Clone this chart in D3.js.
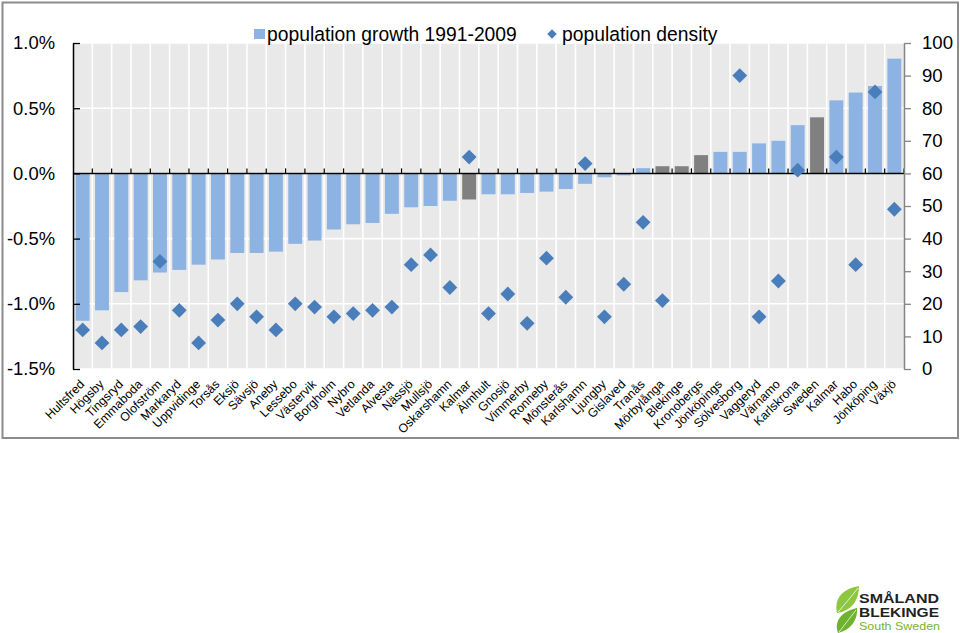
<!DOCTYPE html>
<html>
<head>
<meta charset="utf-8">
<script src="https://cdn.jsdelivr.net/npm/d3@7"></script>
<style>
  html, body { margin: 0; padding: 0; background: #fff; }
  svg { display: block; font-family: "Liberation Sans", Arial, sans-serif; }
</style>
</head>
<body>
<svg id="chart" width="960" height="633"></svg>
<script>
const categories = ["Hultsfred","Högsby","Tingsryd","Emmaboda","Olofström","Markaryd","Uppvidinge","Torsås","Eksjö","Sävsjö","Aneby","Lessebo","Västervik","Borgholm","Nybro","Vetlanda","Alvesta","Nässjö","Mullsjö","Oskarshamn","Kalmar","Älmhult","Gnosjö","Vimmerby","Ronneby","Mönsterås","Karlshamn","Ljungby","Gislaved","Tranås","Mörbylånga","Blekinge","Kronobergs","Jönköpings","Sölvesborg","Vaggeryd","Värnamo","Karlskrona","Sweden","Kalmar","Habo","Jönköping","Växjö"];
// population growth 1991-2009, % per year
const growth = [-1.13,-1.05,-0.91,-0.82,-0.76,-0.74,-0.70,-0.66,-0.61,-0.61,-0.60,-0.54,-0.515,-0.43,-0.39,-0.38,-0.31,-0.26,-0.25,-0.21,-0.20,-0.16,-0.16,-0.15,-0.14,-0.12,-0.08,-0.03,-0.015,0.04,0.055,0.055,0.14,0.165,0.165,0.23,0.25,0.37,0.43,0.56,0.62,0.67,0.88];
// population density (inhabitants per km2), null = not shown
const density = [12,8,12,13,33,18,8,15,20,16,12,20,19,16,17,18,19,32,35,25,65,17,23,14,34,22,63,16,26,45,21,null,null,null,90,16,27,61,null,65,32,85,49];
// categories drawn as aggregate (grey) bars
const aggregateIndex = [20,30,31,32,38];
const leftTicks = [-1.5,-1.0,-0.5,0.0,0.5,1.0];
const rightTicks = [0,10,20,30,40,50,60,70,80,90,100];
const legendLabels = ["population growth 1991-2009","population density"];

const svg = d3.select("#chart");
const plot = {left: 73, right: 904, top: 43, bottom: 369};

const colBar = "#8db3e2", colAgg = "#808080", colDiamond = "#4a7ebb", colBg = "#e9e9e9";

// outer frame
svg.append("rect").attr("x", 2.5).attr("y", 2.5).attr("width", 955.5).attr("height", 435.5)
  .attr("fill", "#fff").attr("stroke", "#8c8c8c").attr("stroke-width", 2);

const x = d3.scaleBand().domain(d3.range(categories.length)).range([plot.left, plot.right]).padding(0);
const yL = d3.scaleLinear().domain([-1.5, 1.0]).range([plot.bottom, plot.top]);
const yR = d3.scaleLinear().domain([0, 100]).range([plot.bottom, plot.top]);

// plot background
svg.append("rect").attr("x", plot.left).attr("y", plot.top)
  .attr("width", plot.right - plot.left).attr("height", plot.bottom - plot.top).attr("fill", colBg);

// gridlines
svg.append("g").selectAll("line").data(leftTicks).join("line")
  .attr("x1", plot.left).attr("x2", plot.right)
  .attr("y1", d => yL(d)).attr("y2", d => yL(d))
  .attr("stroke", "#fff").attr("stroke-width", 1.6);
svg.append("g").selectAll("line").data(d3.range(1, categories.length)).join("line")
  .attr("x1", d => x(d)).attr("x2", d => x(d))
  .attr("y1", plot.top).attr("y2", plot.bottom)
  .attr("stroke", "#fff").attr("stroke-width", 1.6);

// bars
const bw = x.bandwidth() * 0.72;
svg.append("g").selectAll("rect").data(growth).join("rect")
  .attr("x", (d, i) => x(i) + (x.bandwidth() - bw) / 2)
  .attr("width", bw)
  .attr("y", d => yL(Math.max(0, d)))
  .attr("height", d => Math.abs(yL(d) - yL(0)))
  .attr("fill", (d, i) => aggregateIndex.includes(i) ? colAgg : colBar);

// zero axis with ticks above
const zeroY = yL(0);
svg.append("line").attr("x1", plot.left).attr("x2", plot.right)
  .attr("y1", zeroY).attr("y2", zeroY).attr("stroke", "#000").attr("stroke-width", 1.5);
svg.append("g").selectAll("line").data(d3.range(1, categories.length + 1)).join("line")
  .attr("x1", d => x(d) === undefined ? plot.right : x(d))
  .attr("x2", d => x(d) === undefined ? plot.right : x(d))
  .attr("y1", zeroY - 5).attr("y2", zeroY)
  .attr("stroke", "#000").attr("stroke-width", 1.2);

// left axis
const gL = svg.append("g").attr("transform", `translate(${plot.left},0)`)
  .call(d3.axisLeft(yL).tickValues(leftTicks).tickSizeInner(-7).tickSizeOuter(0)
    .tickPadding(18).tickFormat(d => d.toFixed(1) + "%"));
gL.select(".domain").attr("stroke", "#000").attr("stroke-width", 1.5);
gL.selectAll(".tick line").attr("stroke", "#000").attr("stroke-width", 1.3);
gL.selectAll("text").attr("font-size", "18.4px").attr("fill", "#000")
  .attr("font-family", "Liberation Sans, Arial, sans-serif");

// right axis
const gR = svg.append("g").attr("transform", `translate(${plot.right},0)`)
  .call(d3.axisRight(yR).tickValues(rightTicks).tickSize(7).tickSizeOuter(0).tickPadding(11));
gR.select(".domain").attr("stroke", "#868686").attr("stroke-width", 1.5);
gR.selectAll(".tick line").attr("stroke", "#868686").attr("stroke-width", 1.3);
gR.selectAll("text").attr("font-size", "18.6px").attr("fill", "#000")
  .attr("font-family", "Liberation Sans, Arial, sans-serif");

// diamonds
const diamond = d3.symbol().type(d3.symbolDiamond2).size(140);
svg.append("g").selectAll("path").data(density.map((d, i) => ({d, i})).filter(o => o.d !== null)).join("path")
  .attr("d", diamond)
  .attr("transform", o => `translate(${x(o.i) + x.bandwidth() / 2},${yR(o.d)})`)
  .attr("fill", colDiamond);

// category labels
svg.append("g").selectAll("text").data(categories).join("text")
  .attr("transform", (d, i) => `translate(${x(i) + x.bandwidth() / 2 + 2.5},${plot.bottom + 16}) rotate(-45)`)
  .attr("text-anchor", "end")
  .attr("font-size", "12.3px")
  .attr("fill", "#000")
  .text(d => d);

// legend
const lg = svg.append("g");
lg.append("rect").attr("x", 254).attr("y", 29).attr("width", 11).attr("height", 10).attr("fill", colBar);
lg.append("text").attr("x", 267).attr("y", 40.7).attr("font-size", "19.3px").attr("fill", "#000").text(legendLabels[0]);
lg.append("path").attr("d", d3.symbol().type(d3.symbolDiamond2).size(58))
  .attr("transform", "translate(552,34)").attr("fill", colDiamond);
lg.append("text").attr("x", 562).attr("y", 40.7).attr("font-size", "19.3px").attr("fill", "#000").text(legendLabels[1]);

// logo
const logo = svg.append("g");
logo.append("path")
  .attr("d", "M837,613 C834,600 841,589 859,586 C859,601 851,611 837,613 Z")
  .attr("fill", "#8dc63f");
logo.append("path")
  .attr("d", "M838,612 C845,604 851,597 858,588")
  .attr("stroke", "#e8f5d0").attr("stroke-width", 1).attr("fill", "none");
logo.append("path")
  .attr("d", "M838,633 C834,622 840,612 857,608 C858,621 850,630 838,633 Z")
  .attr("fill", "#6fb22f");
logo.append("path")
  .attr("d", "M839,632 C845,625 850,617 856,610")
  .attr("stroke", "#d8eec0").attr("stroke-width", 1).attr("fill", "none");
logo.append("text").attr("x", 859).attr("y", 603).attr("font-size", "12.5px").attr("font-weight", "bold")
  .attr("fill", "#231f20").attr("textLength", 80).attr("lengthAdjust", "spacingAndGlyphs").text("SMÅLAND");
logo.append("text").attr("x", 859).attr("y", 617).attr("font-size", "12.5px").attr("font-weight", "bold")
  .attr("fill", "#231f20").attr("textLength", 80).attr("lengthAdjust", "spacingAndGlyphs").text("BLEKINGE");
logo.append("text").attr("x", 859).attr("y", 630).attr("font-size", "11px")
  .attr("fill", "#7ab32e").attr("textLength", 81).attr("lengthAdjust", "spacingAndGlyphs").text("South Sweden");
</script>
</body>
</html>
